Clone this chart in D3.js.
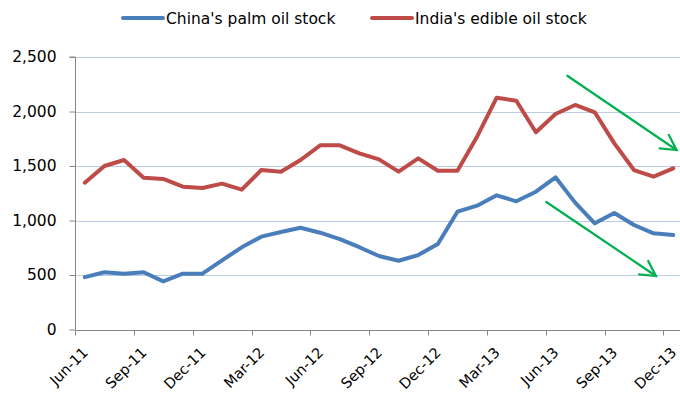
<!DOCTYPE html>
<html>
<head>
<meta charset="utf-8">
<script src="https://cdn.jsdelivr.net/npm/d3@7"></script>
<style>
  html, body { margin: 0; padding: 0; background: #fff; }
  svg { display: block; }
  text { font-family: "DejaVu Sans", sans-serif; fill: #000; }
</style>
</head>
<body>
<svg id="chart" width="680" height="396"></svg>
<script>
// Monthly stock levels, Jun-11 .. Dec-13 ('000 tonnes)
const months = ["Jun-11","Jul-11","Aug-11","Sep-11","Oct-11","Nov-11","Dec-11","Jan-12","Feb-12","Mar-12",
  "Apr-12","May-12","Jun-12","Jul-12","Aug-12","Sep-12","Oct-12","Nov-12","Dec-12","Jan-13",
  "Feb-13","Mar-13","Apr-13","May-13","Jun-13","Jul-13","Aug-13","Sep-13","Oct-13","Nov-13","Dec-13"];

const chinaPalm = [480, 525, 512, 525, 442, 512, 512, 635, 754, 852,
  894, 934, 888, 830, 755, 674, 631, 683, 784, 1081,
  1136, 1231, 1176, 1264, 1396, 1164, 974, 1069, 959, 882, 867];

const indiaEdible = [1347, 1500, 1555, 1393, 1381, 1310, 1298, 1338, 1283, 1463,
  1448, 1555, 1690, 1690, 1616, 1561, 1448, 1570, 1457, 1457,
  1769, 2127, 2099, 1809, 1977, 2060, 1993, 1708, 1463, 1402, 1479];

const tickLabels = ["Jun-11","Sep-11","Dec-11","Mar-12","Jun-12","Sep-12","Dec-12","Mar-13","Jun-13","Sep-13","Dec-13"];
const yTicks = [0, 500, 1000, 1500, 2000, 2500];

const seriesNames = ["China's palm oil stock", "India's edible oil stock"];
const seriesColors = ["#4A7EBB", "#BE4B48"];

// Trend arrows, given as [month index, value] pairs
const trendArrows = [
  [[24.6, 2328], [30.17, 1647]],
  [[23.53, 1170], [29.12, 491]]
];

const svg = d3.select("#chart");
const plotL = 75, plotR = 683, plotT = 57, plotB = 329.5;

const x = d3.scaleBand().domain(months).range([plotL, plotR]).paddingInner(0).paddingOuter(0);
const xi = d3.scaleLinear().domain([-0.5, months.length - 0.5]).range([plotL, plotR]);
const y = d3.scaleLinear().domain([0, 2500]).range([plotB, plotT]);

// Horizontal gridlines
svg.append("g").selectAll("line").data(yTicks.filter(d => d > 0)).join("line")
  .attr("x1", plotL).attr("x2", plotR)
  .attr("y1", d => Math.round(y(d)) + 0.5).attr("y2", d => Math.round(y(d)) + 0.5)
  .attr("stroke", "#B9CDE5").attr("stroke-width", 1);

// Y axis
const yAxis = svg.append("g").attr("transform", `translate(${plotL + 0.5},0)`)
  .call(d3.axisLeft(y).tickValues(yTicks).tickSize(6).tickFormat(d3.format(",")).tickPadding(13));
yAxis.select(".domain").attr("stroke", "#868686").attr("d", `M-6,${y(2500)}H0V${plotB}`);
yAxis.selectAll(".tick line").attr("stroke", "#868686");
yAxis.selectAll(".tick text").style("font-size", "15.5px").attr("fill", "#000")
  .style("font-family", "DejaVu Sans, sans-serif");

// X axis: ticks every third month at category boundaries
const xAxisG = svg.append("g").attr("transform", `translate(0,${Math.round(plotB) + 0.5})`);
xAxisG.append("line").attr("x1", plotL).attr("x2", plotR).attr("stroke", "#868686");
const tickIdx = tickLabels.map(l => months.indexOf(l));
xAxisG.selectAll("line.tk").data(tickIdx).join("line").attr("class", "tk")
  .attr("x1", i => Math.round(x(months[i])) + 0.5).attr("x2", i => Math.round(x(months[i])) + 0.5)
  .attr("y1", 0).attr("y2", 5).attr("stroke", "#868686");
xAxisG.selectAll("text").data(tickLabels).join("text")
  .attr("transform", d => `translate(${x(d) + x.bandwidth() / 2 + 4},${23}) rotate(-45)`)
  .attr("text-anchor", "end")
  .style("font-size", "14.5px")
  .text(d => d);

// Series lines
const line = d3.line().x((d, i) => x(months[i]) + x.bandwidth() / 2).y(d => y(d));
[chinaPalm, indiaEdible].forEach((vals, k) => {
  svg.append("path").datum(vals).attr("d", line)
    .attr("fill", "none").attr("stroke", seriesColors[k])
    .attr("stroke-width", 4).attr("stroke-linejoin", "round").attr("stroke-linecap", "round");
});

// Trend arrows
const arrowG = svg.append("g").attr("stroke", "#00B050").attr("stroke-width", 2.2)
  .attr("fill", "none").attr("stroke-linecap", "round");
trendArrows.forEach(([a, b]) => {
  const x1 = xi(a[0]), y1 = y(a[1]), x2 = xi(b[0]), y2 = y(b[1]);
  arrowG.append("line").attr("x1", x1).attr("y1", y1).attr("x2", x2).attr("y2", y2);
  const ang = Math.atan2(y1 - y2, x1 - x2), len = 17, spread = 0.5;
  const p = [ang - spread, ang + spread].map(t => [x2 + len * Math.cos(t), y2 + len * Math.sin(t)]);
  arrowG.append("path").attr("d", `M${p[0][0]},${p[0][1]}L${x2},${y2}L${p[1][0]},${p[1][1]}`)
    .attr("stroke-linejoin", "miter");
});

// Legend
const legendItems = [{ x: 123, name: seriesNames[0], color: seriesColors[0] },
                     { x: 372, name: seriesNames[1], color: seriesColors[1] }];
const lg = svg.append("g");
legendItems.forEach(it => {
  lg.append("line").attr("x1", it.x).attr("x2", it.x + 40).attr("y1", 18).attr("y2", 18)
    .attr("stroke", it.color).attr("stroke-width", 4).attr("stroke-linecap", "round");
  lg.append("text").attr("x", it.x + 43).attr("y", 18).attr("dy", "0.36em")
    .style("font-size", "15.5px").text(it.name);
});
</script>
</body>
</html>
